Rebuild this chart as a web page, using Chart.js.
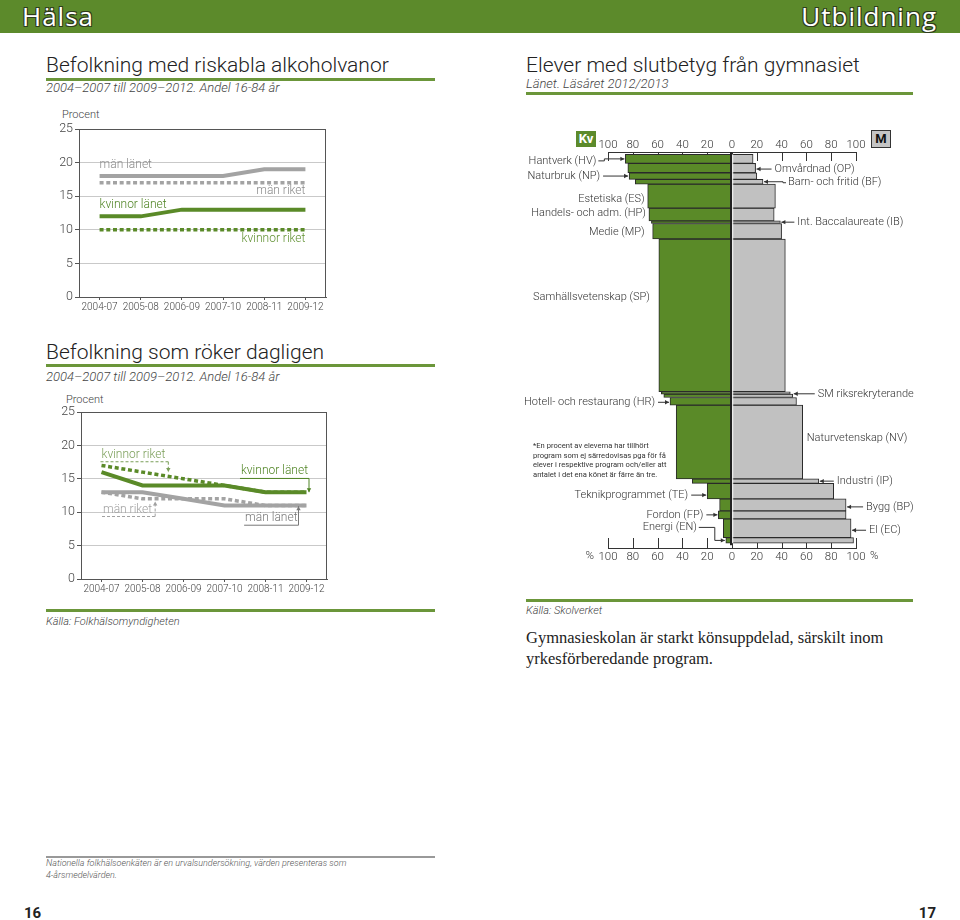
<!DOCTYPE html>
<html>
<head>
<meta charset="utf-8">
<script src="https://cdn.jsdelivr.net/npm/chart.js@4.4.1/dist/chart.umd.min.js"></script>
<style>
body { margin: 0; background: #fff; }
#page { position: relative; width: 960px; height: 920px; overflow: hidden; font-family: Roboto, "Open Sans", sans-serif; color: #333; }
.abs { position: absolute; white-space: nowrap; }
.band { left: 0; top: 0; width: 960px; height: 33px; background: #5c8a2b; }
.hdr { top: -1px; font-family: "Open Sans", sans-serif; font-size: 26px; line-height: 34px; color: #fff; letter-spacing: 1px;
  text-shadow: -1px -1px 0 #2d3b1c, 1px -1px 0 #2d3b1c, -1px 1px 0 #2d3b1c, 1px 1px 0 #2d3b1c; }
.title { font-size: 21px; line-height: 21px; font-weight: 300; color: #222; }
.sub { font-size: 13px; line-height: 14px; font-style: italic; font-weight: 300; color: #444; }
.gline { height: 3px; background: #6b963a; }
.kalla { font-size: 11px; line-height: 13px; font-style: italic; font-weight: 300; color: #444; }
.procent { font-size: 11px; line-height: 12px; font-weight: 300; color: #444; }
.serif { font-family: "Liberation Serif", serif; font-size: 16.5px; line-height: 21px; color: #222; }
.not { font-size: 9px; line-height: 12px; font-style: italic; font-weight: 300; color: #555; }
.fot { font-size: 7.6px; line-height: 9.7px; color: #333; }
.sida { font-size: 15px; line-height: 16px; font-weight: 700; color: #222; }
canvas { position: absolute; }
</style>
</head>
<body>
<div id="page">
  <div class="abs band"></div>
  <div class="abs hdr" style="left:22px">Hälsa</div>
  <div class="abs hdr" style="right:23px">Utbildning</div>

  <div class="abs title" style="left:46px;top:55px">Befolkning med riskabla alkoholvanor</div>
  <div class="abs gline" style="left:46px;top:78px;width:389px"></div>
  <div class="abs sub" style="left:46px;top:81px">2004–2007 till 2009–2012. Andel 16-84 år</div>
  <div class="abs procent" style="left:62px;top:109px">Procent</div>
  <canvas id="alkohol" width="300" height="205" style="left:40px;top:108px"></canvas>

  <div class="abs title" style="left:46px;top:342px">Befolkning som röker dagligen</div>
  <div class="abs gline" style="left:46px;top:364px;width:389px"></div>
  <div class="abs sub" style="left:46px;top:370px">2004–2007 till 2009–2012. Andel 16-84 år</div>
  <div class="abs procent" style="left:66px;top:394px">Procent</div>
  <canvas id="roker" width="300" height="205" style="left:40px;top:391px"></canvas>

  <div class="abs gline" style="left:46px;top:609px;width:389px"></div>
  <div class="abs kalla" style="left:46px;top:615px">Källa: Folkhälsomyndigheten</div>

  <div class="abs title" style="left:526px;top:55px">Elever med slutbetyg från gymnasiet</div>
  <div class="abs sub" style="left:526px;top:77px">Länet. Läsåret 2012/2013</div>
  <div class="abs gline" style="left:526px;top:92px;width:387px"></div>

  <div class="abs" style="left:576px;top:131px;width:20px;height:16px;background:#5c8a2b;color:#fff;font-weight:700;font-size:13px;line-height:16px;text-align:center">Kv</div>
  <div class="abs" style="left:871px;top:130px;width:18px;height:16px;background:#c4c4c4;border:1px solid #333;color:#111;font-weight:700;font-size:13px;line-height:16px;text-align:center">M</div>
  <canvas id="gymnasiet" width="400" height="450" style="left:520px;top:120px"></canvas>
  <div class="abs fot" style="left:533px;top:441px">*En procent av eleverna har tillhört<br>program som ej särredovisas pga för få<br>elever i respektive program och/eller att<br>antalet i det ena könet är färre än tre.</div>

  <div class="abs gline" style="left:526px;top:599px;width:387px"></div>
  <div class="abs kalla" style="left:526px;top:604px">Källa: Skolverket</div>
  <div class="abs serif" style="left:526px;top:627px">Gymnasieskolan är starkt könsuppdelad, särskilt inom<br>yrkesförberedande program.</div>

  <div class="abs" style="left:46px;top:856px;width:389px;height:2px;background:#999"></div>
  <div class="abs not" style="left:46px;top:857px">Nationella folkhälsoenkäten är en urvalsundersökning, värden presenteras som<br>4-årsmedelvärden.</div>

  <div class="abs sida" style="left:24px;top:905px">16</div>
  <div class="abs sida" style="right:24px;top:905px">17</div>
</div>

<script>
const perioder = ['2004-07', '2005-08', '2006-09', '2007-10', '2008-11', '2009-12'];

// Riskabla alkoholvanor, procent
const alkoholManLanet = [18, 18, 18, 18, 19, 19];
const alkoholManRiket = [17, 17, 17, 17, 17, 17];
const alkoholKvinnorLanet = [12, 12, 13, 13, 13, 13];
const alkoholKvinnorRiket = [10, 10, 10, 10, 10, 10];

// Röker dagligen, procent
const rokerKvinnorRiket = [17, 16, 15, 14, 13, 13];
const rokerKvinnorLanet = [16, 14, 14, 14, 13, 13];
const rokerManRiket = [13, 12, 12, 12, 11, 11];
const rokerManLanet = [13, 13, 12, 11, 11, 11];

// Gymnasiet, andel kvinnor / män per program, antal elever ger stapelns höjd
const program = ['Hantverk (HV)', 'Omvårdnad (OP)', 'Naturbruk (NP)', 'Barn- och fritid (BF)',
  'Estetiska (ES)', 'Handels- och adm. (HP)', 'Int. Baccalaureate (IB)', 'Medie (MP)',
  'Samhällsvetenskap (SP)', '', 'SM riksrekryterande', 'Hotell- och restaurang (HR)',
  'Naturvetenskap (NV)', 'Industri (IP)', 'Teknikprogrammet (TE)', 'Bygg (BP)',
  'Fordon (FP)', 'El (EC)', 'Energi (EN)'];
const kvinnorProcent = [86, 84, 83, 78, 68, 67, 65, 64, 59, 57, 55, 50, 45, 32, 20, 10, 11, 7, 5];
const manProcent = [17, 19, 20, 25, 35, 34, 39, 40, 43, 47, 49, 52, 57, 70, 82, 92, 92, 96, 98];
const antalElever = [45, 47, 33, 24, 120, 64, 13, 78, 765, 12, 17, 38, 370, 22, 78, 60, 40, 94, 28];

const GRON = '#5a8a28';
const GRA = '#a3a3a3';
const TXT = '#333';
const FONT = 'Roboto';

function pil(ctx, pts) {
  ctx.beginPath();
  ctx.moveTo(pts[0][0], pts[0][1]);
  for (let i = 1; i < pts.length; i++) ctx.lineTo(pts[i][0], pts[i][1]);
  ctx.stroke();
  const a = pts[pts.length - 2], b = pts[pts.length - 1];
  const ang = Math.atan2(b[1] - a[1], b[0] - a[0]);
  ctx.beginPath();
  ctx.moveTo(b[0], b[1]);
  ctx.lineTo(b[0] - 4 * Math.cos(ang) + 2.2 * Math.sin(ang), b[1] - 4 * Math.sin(ang) - 2.2 * Math.cos(ang));
  ctx.lineTo(b[0] - 4 * Math.cos(ang) - 2.2 * Math.sin(ang), b[1] - 4 * Math.sin(ang) + 2.2 * Math.cos(ang));
  ctx.closePath();
  ctx.fill();
}

// ---------- linjediagram ----------
function noterPlugin(noter) {
  return {
    id: 'noter',
    afterDatasetsDraw(chart) {
      const ctx = chart.ctx, xs = chart.scales.x, ys = chart.scales.y;
      ctx.save();
      ctx.font = '300 12px ' + FONT;
      ctx.textBaseline = 'middle';
      noter.forEach(n => {
        const x = xs.getPixelForValue(n.cat) + (n.dx || 0);
        const y = ys.getPixelForValue(n.val);
        ctx.fillStyle = n.color;
        ctx.textAlign = n.align;
        ctx.fillText(n.text, x, y);
        if (n.line) {
          const w = ctx.measureText(n.text).width;
          const x0 = n.align === 'left' ? x - 1 : x - w - 1;
          const x1 = n.align === 'left' ? x + w + 3 : x + 1;
          const yl = y + 7;
          ctx.strokeStyle = n.color;
          ctx.lineWidth = 1;
          ctx.setLineDash(n.line === 'dashed' ? [3, 2] : []);
          ctx.beginPath();
          ctx.moveTo(x0, yl);
          ctx.lineTo(x1, yl);
          ctx.stroke();
          pil(ctx, [[x1, yl], [x1, ys.getPixelForValue(n.to)]]);
          ctx.setLineDash([]);
        }
      });
      ctx.restore();
    }
  };
}

const ramPlugin = {
  id: 'ram',
  afterDraw(chart) {
    const a = chart.chartArea, ctx = chart.ctx;
    ctx.save();
    ctx.strokeStyle = '#555';
    ctx.lineWidth = 1;
    ctx.strokeRect(a.left + 0.5, a.top + 0.5, a.right - a.left - 1, a.bottom - a.top);
    ctx.restore();
  }
};

function serie(data, color, prickad) {
  return {
    data: data,
    borderColor: color,
    borderWidth: prickad ? 3.5 : 4,
    borderDash: prickad ? [4, 2.7] : [],
    borderCapStyle: 'butt',
    pointRadius: 0,
    tension: 0,
    fill: false
  };
}

function linjeDiagram(id, datasets, noter, yBredd, xHojd, hogerPad) {
  return new Chart(document.getElementById(id), {
    type: 'line',
    data: { labels: perioder, datasets: datasets },
    options: {
      responsive: false,
      animation: false,
      layout: { padding: { top: 21, right: hogerPad, left: 0, bottom: 0 } },
      plugins: { legend: { display: false }, tooltip: { enabled: false } },
      scales: {
        x: {
          offset: true,
          grid: { drawOnChartArea: false, tickLength: 3, tickColor: '#555' },
          border: { color: '#555' },
          ticks: { font: { family: FONT, size: 10, weight: '300' }, color: '#444', padding: 1, maxRotation: 0, autoSkip: false },
          afterFit: s => { s.height = xHojd; }
        },
        y: {
          min: 0, max: 25,
          grid: { color: c => c.tick && c.tick.value === 25 ? '#555' : '#c9c9c9', tickLength: 4, tickColor: '#555' },
          border: { color: '#555' },
          ticks: { stepSize: 5, font: { family: FONT, size: 12.5, weight: '300' }, color: '#444', padding: 2 },
          afterFit: s => { s.width = yBredd; }
        }
      }
    },
    plugins: [ramPlugin, noterPlugin(noter)]
  });
}

linjeDiagram('alkohol', [
  serie(alkoholManRiket, GRA, true),
  serie(alkoholKvinnorRiket, GRON, true),
  serie(alkoholManLanet, GRA, false),
  serie(alkoholKvinnorLanet, GRON, false)
], [
  { text: 'män länet', cat: 0, val: 19.7, align: 'left', color: '#8a8a8a' },
  { text: 'män riket', cat: 5, val: 15.8, align: 'right', color: '#8a8a8a' },
  { text: 'kvinnor länet', cat: 0, val: 13.7, align: 'left', color: '#4f8424' },
  { text: 'kvinnor riket', cat: 5, val: 8.6, align: 'right', color: '#5f9030' }
], 39, 16, 14);

linjeDiagram('roker', [
  serie(rokerKvinnorRiket, GRON, true),
  serie(rokerManRiket, GRA, true),
  serie(rokerKvinnorLanet, GRON, false),
  serie(rokerManLanet, GRA, false)
], [
  { text: 'kvinnor riket', cat: 0, val: 18.6, align: 'left', color: '#7a9e58', line: 'dashed', to: 16 },
  { text: 'män riket', cat: 0, dx: 1.5, val: 10.4, align: 'left', color: '#a0a0a0', line: 'dashed', to: 11.6 },
  { text: 'kvinnor länet', cat: 5, dx: 1.5, val: 16.1, align: 'right', color: '#4f8424', line: 'solid', to: 13 },
  { text: 'män länet', cat: 5, dx: -9, val: 9.1, align: 'right', color: '#777', line: 'solid', to: 10.9 }
], 41, 17, 13);

// ---------- befolkningspyramid för gymnasiet ----------
const totalElever = antalElever.reduce((s, v) => s + v, 0);
const mitt = [];
antalElever.reduce((acc, v) => { mitt.push(acc + v / 2); return acc + v; }, 0);

const etiketter = {
  'Hantverk (HV)': { side: 'left', gap: 29, dy: 2, pil: 8 },
  'Naturbruk (NP)': { side: 'left', gap: 29, dy: 0, pil: 0 },
  'Estetiska (ES)': { side: 'left', gap: 3, dy: 3 },
  'Handels- och adm. (HP)': { side: 'left', gap: 3, dy: -1 },
  'Medie (MP)': { side: 'left', gap: 8, dy: 1 },
  'Samhällsvetenskap (SP)': { side: 'left', gap: 9, dy: -18 },
  'Hotell- och restaurang (HR)': { side: 'left', gap: 15, dy: 1, pil: 0 },
  'Teknikprogrammet (TE)': { side: 'left', gap: 19, dy: 4, pil: 0 },
  'Fordon (FP)': { side: 'left', gap: 15, dy: 0, pil: 0 },
  'Energi (EN)': { side: 'left', gap: 29, dy: -13, pil: 18 },
  'Omvårdnad (OP)': { side: 'right', gap: 19, dy: 1, pil: 0 },
  'Barn- och fritid (BF)': { side: 'right', gap: 25, dy: 1, pil: 5 },
  'Int. Baccalaureate (IB)': { side: 'right', gap: 17, dy: 0, pil: 0 },
  'SM riksrekryterande': { side: 'right', gap: 25, dy: -2, pil: 0 },
  'Naturvetenskap (NV)': { side: 'right', gap: 4, dy: -4 },
  'Industri (IP)': { side: 'right', gap: 18, dy: 0, pil: 0 },
  'Bygg (BP)': { side: 'right', gap: 20, dy: 2, pil: 0 },
  'El (EC)': { side: 'right', gap: 18, dy: 2, pil: 0 }
};

const pyramidPlugin = {
  id: 'pyramid',
  beforeDatasetsDraw(chart) {
    const ctx = chart.ctx, xs = chart.scales.x, a = chart.chartArea;
    ctx.save();
    ctx.strokeStyle = TXT;
    ctx.lineWidth = 1;
    xs.ticks.forEach(t => {
      const x = Math.round(xs.getPixelForValue(t.value)) + 0.5;
      ctx.beginPath();
      ctx.moveTo(x, a.top); ctx.lineTo(x, a.top + 9);
      ctx.moveTo(x, a.bottom); ctx.lineTo(x, a.bottom - 10);
      ctx.stroke();
    });
    ctx.restore();
  },
  afterDatasetsDraw(chart) {
    const ctx = chart.ctx, xs = chart.scales.x, ys = chart.scales.y, a = chart.chartArea;
    const x0 = xs.getPixelForValue(0);
    ctx.save();
    ctx.fillStyle = '#222';
    ctx.fillRect(x0 - 2, a.top, 2.2, ys.getPixelForValue(totalElever) + 2 - a.top);
    ctx.fillStyle = '#fff';
    ctx.fillRect(x0 + 0.2, ys.getPixelForValue(0), 1, ys.getPixelForValue(totalElever) - ys.getPixelForValue(0));

    ctx.font = '300 11px ' + FONT;
    ctx.textBaseline = 'middle';
    ctx.fillStyle = TXT;
    ctx.strokeStyle = TXT;
    ctx.lineWidth = 1;
    program.forEach((namn, i) => {
      const e = etiketter[namn];
      if (!e) return;
      const cy = ys.getPixelForValue(mitt[i]);
      const ty = cy + e.dy;
      if (e.side === 'left') {
        const bx = xs.getPixelForValue(-kvinnorProcent[i]);
        const tx = bx - e.gap;
        ctx.textAlign = 'right';
        ctx.fillText(namn, tx, ty);
        if (e.pil === 0) pil(ctx, [[tx + 3, ty], [bx - 1, ty]]);
        else if (e.pil) pil(ctx, [[tx + 2, ty], [tx + e.pil, ty], [tx + e.pil, cy], [bx - 1, cy]]);
      } else {
        const bx = xs.getPixelForValue(manProcent[i]);
        const tx = bx + e.gap;
        ctx.textAlign = 'left';
        ctx.fillText(namn, tx, ty);
        if (e.pil === 0) pil(ctx, [[tx - 3, ty], [bx + 1, ty]]);
        else if (e.pil) pil(ctx, [[tx - 2, ty], [tx - e.pil, ty], [tx - e.pil, cy], [bx + 1, cy]]);
      }
    });
    // procenttecken vid nedre axeln
    const ly = a.bottom + 8;
    ctx.font = '300 11.5px ' + FONT;
    ctx.textAlign = 'right';
    ctx.fillText('%', xs.getPixelForValue(-100) - 14, ly);
    ctx.textAlign = 'left';
    ctx.fillText('%', xs.getPixelForValue(100) + 14, ly);
    ctx.restore();
  }
};

const axelTicks = {
  stepSize: 20,
  callback: v => Math.abs(v),
  font: { family: FONT, size: 11.5, weight: '300' },
  color: TXT,
  maxRotation: 0,
  autoSkip: false
};

const gymnasiet = new Chart(document.getElementById('gymnasiet'), {
  type: 'bar',
  data: {
    datasets: program.map((namn, i) => ({
      label: namn || 'Övrigt',
      data: [{ x: -kvinnorProcent[i], y: mitt[i] }, { x: manProcent[i], y: mitt[i] }],
      backgroundColor: [GRON, '#c1c1c1'],
      borderColor: '#2a2a2a',
      borderWidth: 1,
      grouped: false,
      barThickness: antalElever[i] * 0.2
    }))
  },
  options: {
    indexAxis: 'y',
    responsive: false,
    animation: false,
    layout: { padding: { left: 88, right: 64, top: 0, bottom: 0 } },
    plugins: { legend: { display: false }, tooltip: { enabled: false } },
    scales: {
      x: {
        type: 'linear', position: 'bottom', min: -100, max: 100,
        grid: { display: false, drawTicks: false }, border: { color: TXT },
        ticks: Object.assign({ padding: 2 }, axelTicks),
        afterFit: s => { s.height = 22; }
      },
      x2: {
        type: 'linear', axis: 'x', position: 'top', min: -100, max: 100,
        grid: { display: false, drawTicks: false }, border: { color: TXT },
        ticks: Object.assign({ padding: 0 }, axelTicks),
        afterFit: s => { s.height = 32; }
      },
      y: { type: 'linear', offset: false, reverse: true, min: -12, max: totalElever + 24, display: false }
    }
  },
  plugins: [pyramidPlugin]
});

// stapeltjocklek = antal elever i y-skalans enheter
const ys = gymnasiet.scales.y;
const pxPerElev = Math.abs(ys.getPixelForValue(1) - ys.getPixelForValue(0));
gymnasiet.data.datasets.forEach((ds, i) => { ds.barThickness = antalElever[i] * pxPerElev; });
gymnasiet.update('none');
</script>
</body>
</html>
